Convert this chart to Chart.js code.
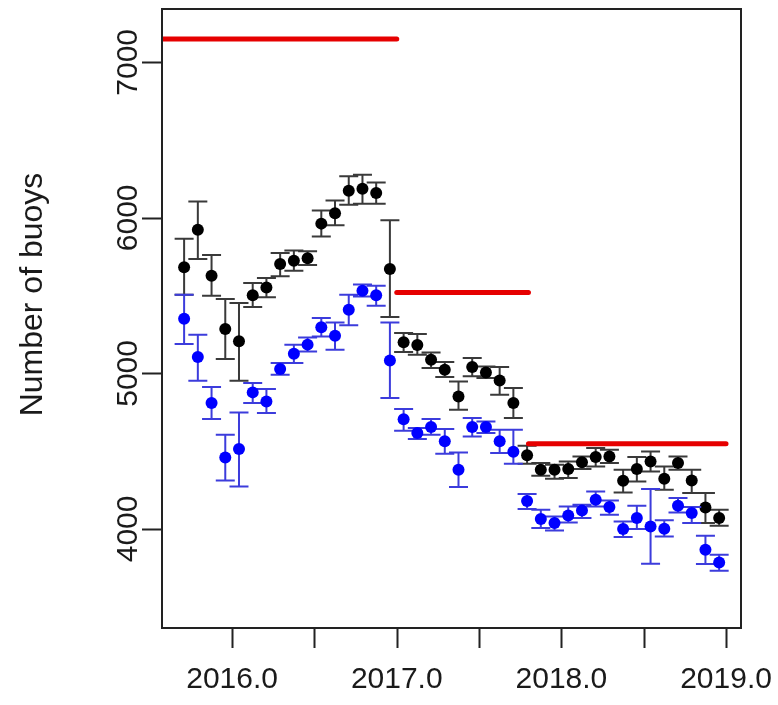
<!DOCTYPE html>
<html>
<head>
<meta charset="utf-8">
<script src="https://cdn.jsdelivr.net/npm/chart.js@4.4.0/dist/chart.umd.min.js"></script>
<style>
  html, body { margin: 0; padding: 0; background: #fff; }
</style>
</head>
<body>
<canvas id="chart" width="778" height="705"></canvas>
<script>
// monthly estimates, Sep 2015 .. Dec 2018
const months = [
  '2015-09', '2015-10', '2015-11', '2015-12',
  '2016-01', '2016-02', '2016-03', '2016-04', '2016-05', '2016-06', '2016-07', '2016-08', '2016-09', '2016-10', '2016-11', '2016-12',
  '2017-01', '2017-02', '2017-03', '2017-04', '2017-05', '2017-06', '2017-07', '2017-08', '2017-09', '2017-10', '2017-11', '2017-12',
  '2018-01', '2018-02', '2018-03', '2018-04', '2018-05', '2018-06', '2018-07', '2018-08', '2018-09', '2018-10', '2018-11', '2018-12'
];

const blackMean = [5683, 5924, 5628, 5285, 5206, 5502, 5553, 5704, 5725, 5740, 5963, 6029, 6175, 6188, 6160, 5671,
  5201, 5183, 5088, 5024, 4852, 5041, 5006, 4955, 4810, 4474, 4381, 4381, 4385, 4428, 4462, 4466, 4310, 4385, 4434, 4323, 4424, 4312, 4138, 4070];
const blackLo = [5505, 5736, 5500, 5093, 4953, 5427, 5489, 5624, 5660, 5697, 5881, 5952, 6085, 6091, 6091, 5363,
  5138, 5120, 5035, 4977, 4767, 4981, 4970, 4863, 4713, 4419, 4342, 4323, 4327, 4385, 4402, 4424, 4235, 4305, 4370, 4252, 4381, 4231, 4038, 4020];
const blackHi = [5865, 6106, 5761, 5478, 5453, 5581, 5613, 5774, 5791, 5785, 6048, 6111, 6267, 6278, 6228, 5984,
  5260, 5253, 5135, 5073, 4948, 5099, 5045, 5041, 4906, 4535, 4424, 4413, 4434, 4466, 4520, 4509, 4381, 4462, 4498, 4402, 4466, 4381, 4231, 4123];

const blueMean = [5352, 5105, 4810, 4460, 4514, 4878, 4820, 5028, 5127, 5185, 5296, 5242, 5410, 5532, 5502, 5083,
  4705, 4617, 4655, 4563, 4381, 4655, 4655, 4563, 4496, 4179, 4064, 4038, 4087, 4119, 4188, 4141, 3999, 4070, 4016, 4001, 4149, 4102, 3866, 3784];
const blueLo = [5189, 4953, 4707, 4312, 4273, 4810, 4745, 4992, 5067, 5141, 5238, 5152, 5310, 5495, 5435, 4842,
  4631, 4578, 4606, 4484, 4269, 4595, 4617, 4488, 4419, 4128, 4006, 3990, 4042, 4070, 4145, 4091, 3948, 3999, 3776, 3952, 4106, 4038, 3774, 3731];
const blueHi = [5506, 5249, 4913, 4606, 4749, 4938, 4900, 5067, 5184, 5231, 5356, 5328, 5506, 5571, 5564, 5328,
  4771, 4649, 4707, 4642, 4492, 4713, 4691, 4638, 4638, 4225, 4123, 4080, 4145, 4156, 4241, 4183, 4048, 4149, 4257, 4055, 4199, 4141, 3956, 3834];

// red reference levels
const refStart = [2015.5, 2017.0, 2017.8];
const refEnd   = [2017.0, 2017.8, 2019.0];
const refLevel = [7150, 5520, 4548];

const xTicks = [2016, 2016.5, 2017, 2017.5, 2018, 2018.5, 2019];
const xLabels = ['2016.0', '', '2017.0', '', '2018.0', '', '2019.0'];
const yTicks = [4000, 5000, 6000, 7000];
const yTitle = 'Number of buoys';

const FONT = '30px "Liberation Sans", Arial, sans-serif';
const TITLE_FONT = '32px "Liberation Sans", Arial, sans-serif';

function toYear(m) {
  const [y, mo] = m.split('-').map(Number);
  return y + (mo - 0.5) / 12;
}

const errorBars = {
  id: 'errorBars',
  beforeDatasetDraw(chart, args) {
    const ds = chart.data.datasets[args.index];
    if (!ds.errLo) return;
    const { ctx, scales: { x, y }, chartArea: a } = chart;
    ctx.save();
    ctx.beginPath();
    ctx.rect(a.left, a.top, a.right - a.left, a.bottom - a.top);
    ctx.clip();
    ctx.strokeStyle = ds.errColor;
    ctx.lineWidth = 2;
    ctx.beginPath();
    ds.data.forEach((p, i) => {
      const px = x.getPixelForValue(p.x);
      const lo = y.getPixelForValue(ds.errLo[i]);
      const hi = y.getPixelForValue(ds.errHi[i]);
      ctx.moveTo(px, lo); ctx.lineTo(px, hi);
      ctx.moveTo(px - 9.5, lo); ctx.lineTo(px + 9.5, lo);
      ctx.moveTo(px - 9.5, hi); ctx.lineTo(px + 9.5, hi);
    });
    ctx.stroke();
    ctx.restore();
  }
};

const rAxes = {
  id: 'rAxes',
  afterDraw(chart) {
    const { ctx, scales: { x, y }, chartArea: a } = chart;
    ctx.save();
    ctx.strokeStyle = '#222';
    ctx.lineWidth = 2;
    ctx.strokeRect(a.left, a.top, a.right - a.left, a.bottom - a.top);

    ctx.fillStyle = '#1a1a1a';
    ctx.font = FONT;
    ctx.beginPath();
    xTicks.forEach(v => {
      const px = Math.round(x.getPixelForValue(v)) + 0.5;
      ctx.moveTo(px, a.bottom); ctx.lineTo(px, a.bottom + 20);
    });
    yTicks.forEach(v => {
      const py = Math.round(y.getPixelForValue(v)) + 0.5;
      ctx.moveTo(a.left, py); ctx.lineTo(a.left - 20, py);
    });
    ctx.stroke();

    ctx.textAlign = 'center';
    ctx.textBaseline = 'middle';
    xTicks.forEach((v, i) => {
      if (xLabels[i]) ctx.fillText(xLabels[i], x.getPixelForValue(v), a.bottom + 52);
    });
    yTicks.forEach(v => {
      ctx.save();
      ctx.translate(a.left - 33, y.getPixelForValue(v));
      ctx.rotate(-Math.PI / 2);
      ctx.fillText(String(v), 0, 0);
      ctx.restore();
    });
    ctx.save();
    ctx.font = TITLE_FONT;
    ctx.translate(33, (a.top + a.bottom) / 2 - 24);
    ctx.rotate(-Math.PI / 2);
    ctx.fillText(yTitle, 0, 0);
    ctx.restore();
    ctx.restore();
  }
};

const refSets = refLevel.map((lvl, i) => ({
  type: 'line',
  data: [{ x: refStart[i], y: lvl }, { x: refEnd[i], y: lvl }],
  borderColor: '#e60000',
  borderWidth: 5,
  borderCapStyle: 'round',
  pointRadius: 0,
  showLine: true,
  clip: 0,
  order: 0
}));

new Chart(document.getElementById('chart'), {
  type: 'scatter',
  data: {
    datasets: [
      ...refSets,
      {
        data: months.map((m, i) => ({ x: toYear(m), y: blueMean[i] })),
        errLo: blueLo, errHi: blueHi, errColor: '#3c3cdc',
        backgroundColor: '#0000ff', pointRadius: 6, borderWidth: 0, order: 1
      },
      {
        data: months.map((m, i) => ({ x: toYear(m), y: blackMean[i] })),
        errLo: blackLo, errHi: blackHi, errColor: '#3a3a3a',
        backgroundColor: '#000000', pointRadius: 6, borderWidth: 0, order: 2
      }
    ]
  },
  options: {
    responsive: false,
    animation: false,
    layout: { padding: { left: 162, top: 9, right: 37, bottom: 77 } },
    plugins: { legend: { display: false }, tooltip: { enabled: false } },
    scales: {
      x: { type: 'linear', min: 2015.574, max: 2019.091, display: false },
      y: { type: 'linear', min: 3363, max: 7343, display: false }
    }
  },
  plugins: [errorBars, rAxes]
});
</script>
</body>
</html>
